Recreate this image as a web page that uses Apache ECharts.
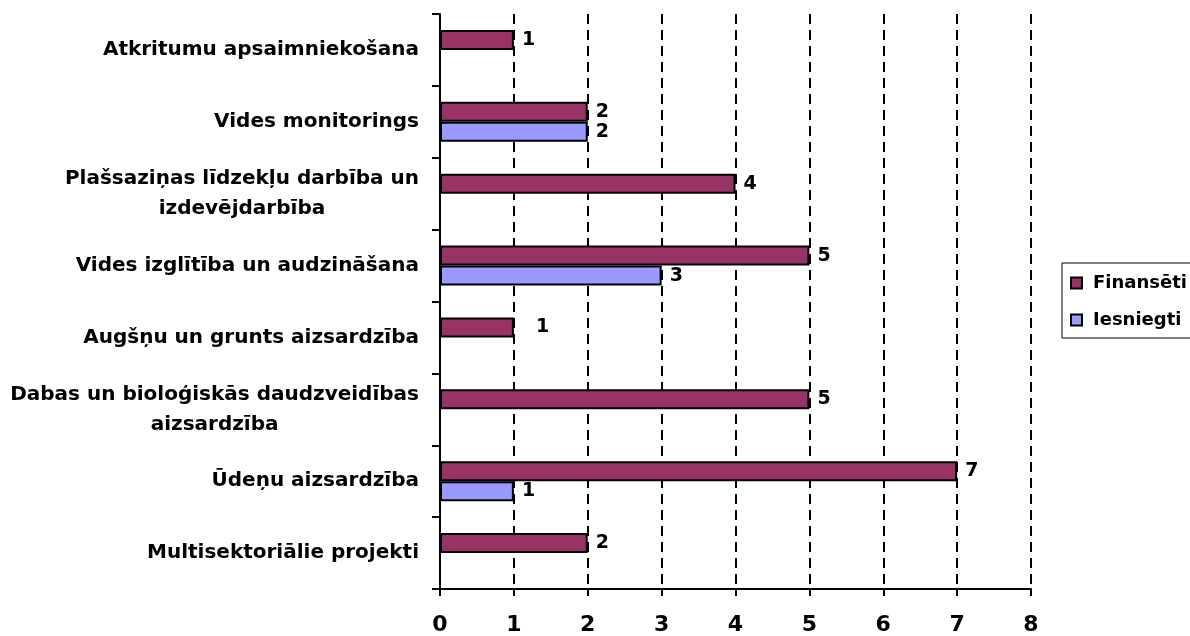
<!DOCTYPE html>
<html>
<head>
<meta charset="utf-8">
<script src="https://cdn.jsdelivr.net/npm/echarts@6/dist/echarts.min.js"></script>
<style>
html, body { margin: 0; padding: 0; background: #fff; }
#chart { width: 1190px; height: 636px; }
</style>
</head>
<body>
<div id="chart"></div>
<script>
// kategorijas (no augšas uz leju)
var categories = [
	'Atkritumu apsaimniekošana',
	'Vides monitorings',
	'Plašsaziņas līdzekļu darbība un\nizdevējdarbība',
	'Vides izglītība un audzināšana',
	'Augšņu un grunts aizsardzība',
	'Dabas un bioloģiskās daudzveidības\naizsardzība',
	'Ūdeņu aizsardzība',
	'Multisektoriālie projekti'
];
var finanseti = [1, 2, 4, 5, 1, 5, 7, 2];
var iesniegti = [null, 2, null, 3, null, null, 1, null];
var xTicks = [0, 1, 2, 3, 4, 5, 6, 7, 8];

var font = 'DejaVu Sans';
var chart = echarts.init(document.getElementById('chart'));

var option = {
	animation: false,
	backgroundColor: '#fff',
	grid: {
		left: 440,
		right: 159,
		top: 14,
		bottom: 47
	},
	legend: {
		orient: 'vertical',
		left: 1062,
		top: 263,
		data: ['Finansēti', 'Iesniegti'],
		itemWidth: 11,
		itemHeight: 11,
		itemGap: 17,
		padding: [10, 12, 8, 8],
		borderColor: '#000',
		borderWidth: 1,
		icon: 'rect',
		textStyle: {
			fontFamily: font,
			fontWeight: 'bold',
			fontSize: 18,
			lineHeight: 20,
			color: '#000',
			padding: [0, 0, 0, 6]
		}
	},
	xAxis: {
		type: 'value',
		min: xTicks[0],
		max: xTicks[xTicks.length - 1],
		interval: 1,
		axisLine: { show: true, lineStyle: { color: '#000', width: 2 } },
		axisTick: { show: true, length: 7, lineStyle: { color: '#000', width: 2 } },
		axisLabel: {
			margin: 25,
			fontFamily: font,
			fontWeight: 'bold',
			fontSize: 22,
			color: '#000'
		},
		splitLine: {
			show: true,
			lineStyle: { color: '#000', width: 2, type: [10, 6] }
		}
	},
	yAxis: {
		type: 'category',
		inverse: true,
		data: categories,
		axisLine: { show: true, lineStyle: { color: '#000', width: 2 } },
		axisTick: { show: true, length: 8, lineStyle: { color: '#000', width: 2 } },
		axisLabel: {
			margin: 21,
			align: 'right',
			formatter: function(v) {
				return v.split('\n').map(function(s) { return '{c|' + s + '}'; }).join('\n');
			},
			rich: {
				c: {
					align: 'center',
					fontFamily: font,
					fontWeight: 'bold',
					fontSize: 20,
					lineHeight: 30,
					color: '#000'
				}
			}
		}
	},
	series: [
		{
			name: 'Finansēti',
			type: 'bar',
			barWidth: 20,
			barGap: '0%',
			data: finanseti.map(function(v, i) {
				// Excel etiķete šai joslai nobīdīta tālāk
				if (i === 4) return { value: v, label: { distance: 22 } };
				return v;
			}),
			itemStyle: { color: '#993366', borderColor: '#000', borderWidth: 2 },
			label: {
				show: true,
				position: 'right',
				distance: 8,
				fontFamily: font,
				fontWeight: 'bold',
				fontSize: 19,
				color: '#000'
			}
		},
		{
			name: 'Iesniegti',
			type: 'bar',
			barWidth: 20,
			barGap: '0%',
			data: iesniegti,
			itemStyle: { color: '#9999FF', borderColor: '#000', borderWidth: 2 },
			label: {
				show: true,
				position: 'right',
				distance: 8,
				fontFamily: font,
				fontWeight: 'bold',
				fontSize: 19,
				color: '#000'
			}
		}
	]
};

chart.setOption(option);
window.onresize = function() {
	chart.resize();
};
</script>
</body>
</html>
